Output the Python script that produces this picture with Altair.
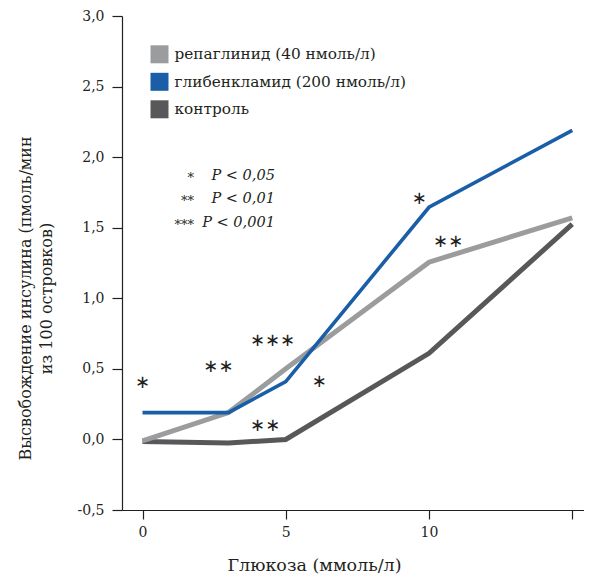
import altair as alt
import pandas as pd

# ---- data ----
glucose = [0, 3, 5, 10, 15]
series_names = ["репаглинид (40 нмоль/л)", "глибенкламид (200 нмоль/л)", "контроль"]
repaglinide = [-0.01, 0.19, 0.50, 1.256, 1.57]
glibenclamide = [0.19, 0.19, 0.41, 1.645, 2.19]
control = [-0.015, -0.025, 0.0, 0.61, 1.525]
colors = ["#9b9c9e", "#1a5ea8", "#58585a"]

star_x = [0.0, 2.65, 4.54, 4.28, 6.17, 9.66, 10.67]
star_y = [0.40, 0.516, 0.70, 0.096, 0.41, 1.70, 1.40]
star_txt = ["∗", "∗∗", "∗∗∗", "∗∗", "∗", "∗", "∗∗"]

key_stars = ["*", "**", "***"]
key_text = ["P < 0,05", "P < 0,01", "P < 0,001"]
key_y = [1.867, 1.705, 1.535]
key_star_x = 1.80
key_text_x = 4.62

FONT = "DejaVu Serif"
INK = "#231f20"

rows = []
for name, vals in zip(series_names, [repaglinide, glibenclamide, control]):
    for g, v in zip(glucose, vals):
        rows.append({"glucose": g, "value": v, "series": name})
lines_df = pd.DataFrame(rows)

stars_df = pd.DataFrame({"x": star_x, "y": star_y, "t": star_txt})
key_df = pd.DataFrame({"s": key_stars, "t": key_text, "y": key_y,
                       "sx": [key_star_x] * 3, "tx": [key_text_x] * 3})
legend_df = pd.DataFrame({"series": series_names})

xscale = alt.Scale(domain=[-0.716, 15.41], nice=False, zero=False)
yscale = alt.Scale(domain=[-0.5, 3.0], nice=False, zero=False)
cscale = alt.Scale(domain=series_names, range=colors)
legend_rows = alt.Scale(domain=series_names, range=[38.3, 93.3], padding=0)

x_axis = alt.Axis(
    values=[0, 5, 10, 15], grid=False, tickSize=9, labelPadding=6,
    labelExpr="datum.value == 15 ? '' : datum.label",
    labelFont=FONT, labelFontSize=14, labelColor=INK,
    title="Глюкоза (ммоль/л)", titleFont=FONT, titleFontSize=17.5,
    titleFontWeight="normal", titleColor=INK,
    titleX=192, titleY=55, titleAnchor="middle", titleBaseline="middle",
    domainColor=INK, tickColor=INK, domainWidth=1.2, tickWidth=1.2,
)
y_axis = alt.Axis(
    values=[-0.5, 0, 0.5, 1.0, 1.5, 2.0, 2.5, 3.0], grid=False, tickSize=10,
    labelPadding=8,
    labelExpr="replace(replace(format(datum.value, '.1f'), '.', ','), '−', '-')",
    labelFont=FONT, labelFontSize=14, labelColor=INK,
    title=["Высвобождение инсулина (пмоль/мин", "из 100 островков)"],
    titleFont=FONT, titleFontSize=16, titleFontWeight="normal",
    titleColor=INK, titleLineHeight=21,
    titleX=-89, titleY=282, titleAngle=-90, titleAlign="center",
    titleBaseline="bottom",
    domainColor=INK, tickColor=INK, domainWidth=1.2, tickWidth=1.2,
)

base = alt.Chart(lines_df)

def series_line(name, width, axis):
    return base.transform_filter(alt.datum.series == name).mark_line(
        strokeWidth=width, strokeCap="butt", strokeJoin="miter"
    ).encode(
        x=alt.X("glucose:Q", scale=xscale, axis=x_axis),
        y=alt.Y("value:Q", scale=yscale, axis=axis),
        color=alt.Color("series:N", scale=cscale, legend=None),
    )

l_control = series_line(series_names[2], 5, y_axis)
l_rep = series_line(series_names[0], 5, None)
l_gli = series_line(series_names[1], 3.6, None)

stars = alt.Chart(stars_df).mark_text(
    font="DejaVu Sans", fontSize=18, baseline="middle", align="center",
    color=INK
).encode(x=alt.X("x:Q", scale=xscale),
         y=alt.Y("y:Q", scale=yscale, axis=None), text="t:N")

key_s = alt.Chart(key_df).mark_text(
    font=FONT, fontSize=13, baseline="middle", align="right", dy=2,
    color=INK
).encode(x=alt.X("sx:Q", scale=xscale),
         y=alt.Y("y:Q", scale=yscale, axis=None), text="s:N")

key_t = alt.Chart(key_df).mark_text(
    font=FONT, fontSize=14.5, fontStyle="italic", baseline="middle",
    align="right", color=INK
).encode(x=alt.X("tx:Q", scale=xscale),
         y=alt.Y("y:Q", scale=yscale, axis=None), text="t:N")

# legend drawn as filled squares + labels
leg_sq = alt.Chart(legend_df).mark_square(size=324, opacity=1, filled=True).encode(
    x=alt.value(37.5),
    y=alt.Y("series:N", scale=legend_rows, axis=None),
    color=alt.Color("series:N", scale=cscale, legend=None),
)
leg_tx = alt.Chart(legend_df).mark_text(
    font=FONT, fontSize=15.3, align="left", baseline="middle", color=INK
).encode(
    x=alt.value(52.5),
    y=alt.Y("series:N", scale=legend_rows, axis=None),
    text="series:N",
)

chart = alt.layer(
    l_control, l_rep, l_gli, stars, key_s, key_t, leg_sq, leg_tx
).resolve_scale(y="independent").properties(
    width=462, height=494,
    autosize=alt.AutoSizeParams(type="none"),
    padding={"left": 114, "top": 8, "right": 0, "bottom": 65},
).configure_view(stroke=None).configure_axis(labelFontWeight="normal")

chart.save("out.html", embed_options={"renderer": "svg", "actions": False})
